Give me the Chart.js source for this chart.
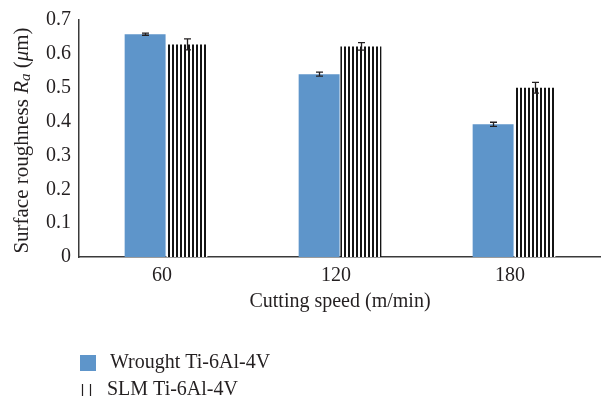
<!DOCTYPE html>
<html>
<head>
<meta charset="utf-8">
<script src="https://cdn.jsdelivr.net/npm/chart.js@4.4.1/dist/chart.umd.min.js"></script>
<style>
    html, body { margin: 0; padding: 0; background: #fff; }
    #wrap { width: 601px; height: 407px; position: relative; overflow: hidden; }
</style>
</head>
<body>
<div id="wrap"><canvas id="myChart" width="601" height="407"></canvas></div>
<script>
// data
var categories = ['60', '120', '180'];
var wroughtValues = [0.658, 0.540, 0.392];
var wroughtErrors = [0.003, 0.006, 0.006];
var slmValues = [0.628, 0.622, 0.500];
var slmErrors = [0.016, 0.011, 0.016];
var seriesNames = ['Wrought Ti-6Al-4V', 'SLM Ti-6Al-4V'];
var yTickValues = [0, 0.1, 0.2, 0.3, 0.4, 0.5, 0.6, 0.7];

var textColor = '#231f20';
var blue = '#5e95ca';
var serif = '"Liberation Serif", "DejaVu Serif", serif';

function makeHatch() {
    var c = document.createElement('canvas');
    c.width = 4;
    c.height = 4;
    var cx = c.getContext('2d');
    cx.fillStyle = '#ffffff';
    cx.fillRect(0, 0, 4, 4);
    cx.fillStyle = '#141414';
    cx.fillRect(0, 0, 2, 4);
    return document.getElementById('myChart').getContext('2d').createPattern(c, 'repeat');
}

var errorBars = {
    id: 'errorBars',
    afterDatasetsDraw: function (chart) {
        var ctx = chart.ctx;
        var yScale = chart.scales.y;
        var errs = [wroughtErrors, slmErrors];
        ctx.save();
        ctx.strokeStyle = textColor;
        ctx.lineWidth = 1.3;
        chart.data.datasets.forEach(function (ds, di) {
            var meta = chart.getDatasetMeta(di);
            meta.data.forEach(function (bar, i) {
                var v = ds.data[i];
                var e = errs[di][i];
                var x = Math.round(bar.x) + 0.5;
                var yTop = yScale.getPixelForValue(v + e);
                var yBot = yScale.getPixelForValue(v - e);
                ctx.beginPath();
                ctx.moveTo(x, yTop);
                ctx.lineTo(x, yBot);
                ctx.moveTo(x - 3.5, yTop);
                ctx.lineTo(x + 3.5, yTop);
                ctx.moveTo(x - 3.5, yBot);
                ctx.lineTo(x + 3.5, yBot);
                ctx.stroke();
            });
        });
        ctx.restore();
    }
};

// y title with italic R, subscript a and italic mu
var yTitle = {
    id: 'yTitle',
    afterDraw: function (chart) {
        var ctx = chart.ctx;
        var area = chart.chartArea;
        var parts = [
            { t: 'Surface roughness ', f: '21px ' + serif, dy: 0 },
            { t: 'R', f: 'italic 21px ' + serif, dy: 0 },
            { t: 'a', f: 'italic 15px ' + serif, dy: 4 },
            { t: ' (', f: '21px ' + serif, dy: 0 },
            { t: '\u03bc', f: 'italic 21px ' + serif, dy: 0 },
            { t: 'm)', f: '21px ' + serif, dy: 0 }
        ];
        ctx.save();
        var total = 0;
        parts.forEach(function (p) {
            ctx.font = p.f;
            p.w = ctx.measureText(p.t).width;
            total += p.w;
        });
        ctx.translate(22, (area.top + area.bottom) / 2 + 2);
        ctx.rotate(-Math.PI / 2);
        ctx.fillStyle = textColor;
        ctx.textBaseline = 'middle';
        var x = -total / 2;
        parts.forEach(function (p) {
            ctx.font = p.f;
            ctx.fillText(p.t, x, p.dy);
            x += p.w;
        });
        ctx.restore();
    }
};

var bottomLegend = {
    id: 'bottomLegend',
    afterDraw: function (chart) {
        var ctx = chart.ctx;
        var left = chart.chartArea.left;
        ctx.save();
        ctx.fillStyle = blue;
        ctx.fillRect(left + 1, 355, 16, 16);
        ctx.strokeStyle = textColor;
        ctx.lineWidth = 1.2;
        ctx.beginPath();
        ctx.moveTo(left + 3.5, 384);
        ctx.lineTo(left + 3.5, 396);
        ctx.moveTo(left + 11.5, 384);
        ctx.lineTo(left + 11.5, 396);
        ctx.stroke();
        ctx.fillStyle = textColor;
        ctx.font = '20px ' + serif;
        ctx.textBaseline = 'middle';
        ctx.fillText(seriesNames[0], left + 31, 363);
        ctx.fillText(seriesNames[1], left + 28, 390);
        ctx.restore();
    }
};

function renderChart() {
    var ctx = document.getElementById('myChart');
    var myChart = new Chart(ctx, {
        type: 'bar',
        plugins: [errorBars, yTitle, bottomLegend],
        data: {
            labels: categories,
            datasets: [{
                label: seriesNames[0],
                data: wroughtValues,
                backgroundColor: blue,
                borderWidth: 0
            }, {
                label: seriesNames[1],
                data: slmValues,
                backgroundColor: makeHatch(),
                borderWidth: 0
            }]
        },
        options: {
            responsive: false,
            animation: false,
            devicePixelRatio: 1,
            categoryPercentage: 0.48,
            barPercentage: 0.98,
            layout: {
                padding: { top: 17, left: 0, right: 0, bottom: 93 }
            },
            plugins: {
                legend: { display: false },
                tooltip: { enabled: false }
            },
            scales: {
                x: {
                    grid: { display: false, drawTicks: false },
                    border: { display: true, color: '#3a3a3a', width: 1.5 },
                    ticks: {
                        color: textColor,
                        font: { family: serif, size: 20 },
                        padding: 7,
                        labelOffset: -4
                    },
                    title: {
                        display: true,
                        text: 'Cutting speed (m/min)',
                        color: textColor,
                        font: { family: serif, size: 20 },
                        padding: { top: 0, bottom: 0 }
                    },
                    afterFit: function (s) { s.height = 57; }
                },
                y: {
                    min: 0,
                    max: 0.7,
                    afterBuildTicks: function (s) {
                        s.ticks = yTickValues.map(function (v) { return { value: v }; });
                    },
                    grid: { display: false, drawTicks: false },
                    border: { display: true, color: '#3a3a3a', width: 1.5 },
                    ticks: {
                        color: textColor,
                        font: { family: serif, size: 20 },
                        padding: 8,
                        callback: function (v) { return String(Math.round(v * 10) / 10); }
                    },
                    afterFit: function (s) { s.width = 79; }
                }
            }
        }
    });
}

renderChart();
</script>
</body>
</html>
